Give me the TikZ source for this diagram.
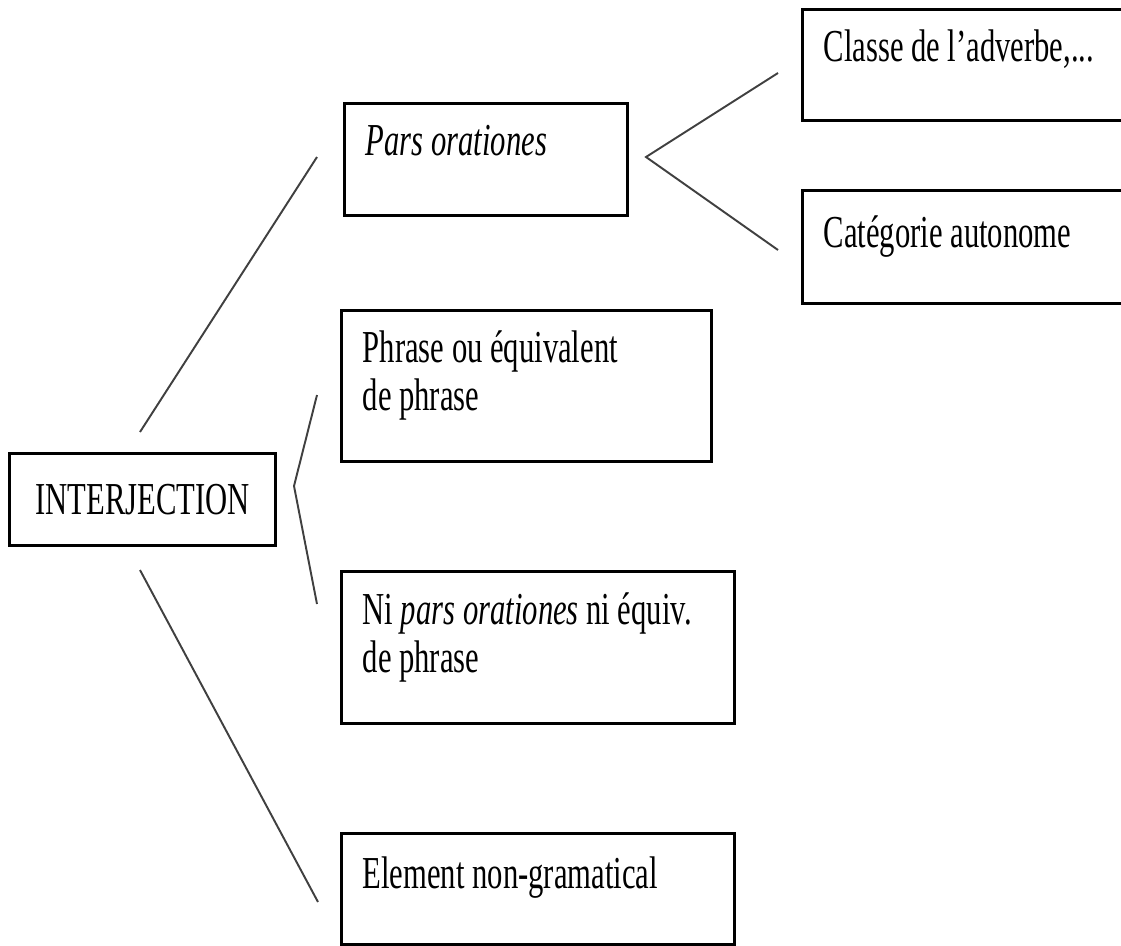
\documentclass[tikz,border=0pt]{standalone}
\usepackage{fontspec}
\setmainfont{Liberation Serif}[FakeStretch=0.67]
\usepackage{tikz}
\usetikzlibrary{calc}
\usetikzlibrary{positioning}

\begin{document}
\begin{tikzpicture}[x=0.01cm, y=-0.01cm,
	box/.style={rectangle, draw=black, line width=0.85pt, inner sep=0pt, anchor=north west},
	lbl/.style={inner sep=0pt, anchor=base west, align=left, font=\fontsize{13}{13.6}\selectfont},
	link/.style={draw=black!75, line width=0.55pt}]

\clip (0,0) rectangle (1121,945);

\node at (8,452) [box, minimum width=2.66cm, minimum height=0.92cm, font=\fontsize{13}{13.6}\selectfont] (interj) {INTERJECTION};

\node at (343,102) [box, minimum width=2.83cm, minimum height=1.12cm] (pars) {};
\node at (801,8) [box, minimum width=4cm, minimum height=1.11cm] (classe) {};
\node at (801,189) [box, minimum width=4cm, minimum height=1.13cm] (categ) {};
\node at (340,309) [box, minimum width=3.7cm, minimum height=1.51cm] (phrase) {};
\node at (340,570) [box, minimum width=3.93cm, minimum height=1.52cm] (nipars) {};
\node at (340,832) [box, minimum width=3.93cm, minimum height=1.11cm] (element) {};

% two-line labels sit on their last baseline
\node at ($(pars.north west)+(22,53)$) [lbl] (parstxt) {\textit{Pars orationes}};
\node at ($(classe.north west)+(22,53)$) [lbl] (classetxt) {Classe de l'adverbe,...};
\node at ($(categ.north west)+(22,58)$) [lbl] (categtxt) {Catégorie autonome};
\node at ($(phrase.north west)+(22,101)$) [lbl] (phrasetxt) {Phrase ou équivalent\\de phrase};
\node at ($(nipars.north west)+(22,102)$) [lbl] (niparstxt) {Ni \textit{pars orationes} ni équiv.\\de phrase};
\node at ($(element.north west)+(22,56)$) [lbl] (elementtxt) {Element non-gramatical};

% free ends of the connectors
\coordinate (iup) at (140,432);
\coordinate (idown) at (140,570);
\coordinate (pin) at (317,157);
\coordinate (ein) at (318,902);
\coordinate (btop) at (317,395);
\coordinate (btip) at (294,486);
\coordinate (bbot) at (317,604);
\coordinate (ftip) at (646,157);
\coordinate (fup) at (778,73);
\coordinate (fdown) at (778,250);

\draw[link] (iup) -- (pin);
\draw[link] (idown) -- (ein);
\draw[link] (btop) -- (btip) -- (bbot);
\draw[link] (fup) -- (ftip) -- (fdown);

\end{tikzpicture}
\end{document}
